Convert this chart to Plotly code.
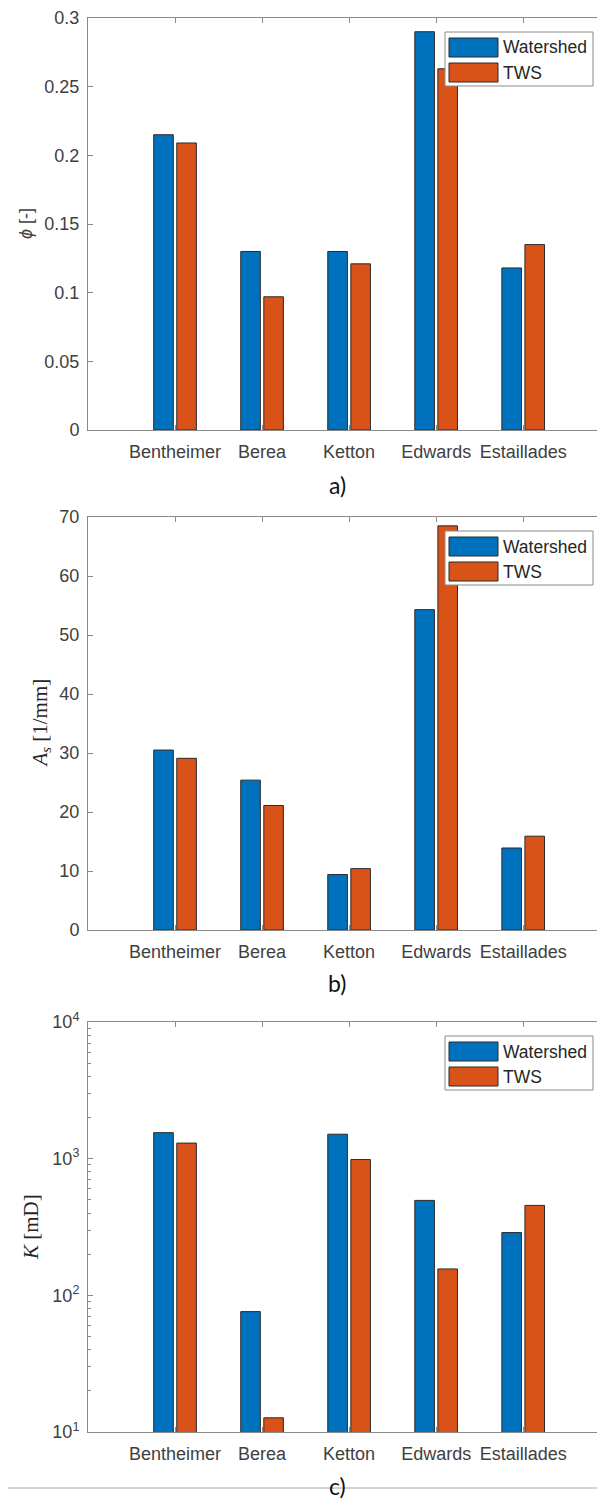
import plotly.graph_objects as go

# ---------------- data ----------------
rocks = ["Bentheimer", "Berea", "Ketton", "Edwards", "Estaillades"]
series_names = ["Watershed", "TWS"]

porosity_watershed = [0.215, 0.130, 0.130, 0.290, 0.118]
porosity_tws = [0.209, 0.097, 0.121, 0.263, 0.135]

area_watershed = [30.5, 25.4, 9.4, 54.3, 13.9]
area_tws = [29.1, 21.1, 10.4, 68.5, 15.9]

perm_watershed = [1550, 76, 1510, 495, 288]
perm_tws = [1300, 12.7, 985, 156, 455]

phi_ticks = [0, 0.05, 0.1, 0.15, 0.2, 0.25, 0.3]
phi_ticktext = ["0", "0.05", "0.1", "0.15", "0.2", "0.25", "0.3"]
as_ticks = [0, 10, 20, 30, 40, 50, 60, 70]
k_ticks = [10, 100, 1000, 10000]
k_ticktext = ["10<sup>1</sup>", "10<sup>2</sup>", "10<sup>3</sup>", "10<sup>4</sup>"]

panel_labels = ["a)", "b)", "c)"]
y_titles = ["<i>ϕ</i> [-]", "<i>A<sub>s</sub></i> [1/mm]", "<i>K</i> [mD]"]

# ---------------- style / layout helpers ----------------
OX, OY = 8, 8            # page body margin offset
W, H = 605 - OX, 1499 - OY
BLUE = "#0072BD"
ORANGE = "#D95319"
AXIS_COLOR = "#8a8a8a"
TEXT_COLOR = "#404040"
TICK_FONT = dict(family="Liberation Sans, Arial, sans-serif", size=18, color=TEXT_COLOR)


def py(p):
    return 1 - (p - OY) / H


def px(p):
    return (p - OX) / W


x_left = 88
# (top px, bottom px) of each plot area in page pixels
panels = [(18, 430), (517, 930), (1022, 1432)]
label_y = [485, 983, 1486]

fig = go.Figure()
xpos = list(range(1, len(rocks) + 1))

data_sets = [
    (porosity_watershed, porosity_tws),
    (area_watershed, area_tws),
    (perm_watershed, perm_tws),
]

for i, (wv, tv) in enumerate(data_sets):
    xa = "x" if i == 0 else f"x{i+1}"
    ya = "y" if i == 0 else f"y{i+1}"
    fig.add_trace(go.Bar(x=xpos, y=wv, name=series_names[0], xaxis=xa, yaxis=ya,
                         marker=dict(color=BLUE, line=dict(color="#2a2a2a", width=1)),
                         offsetgroup="w", showlegend=False))
    fig.add_trace(go.Bar(x=xpos, y=tv, name=series_names[1], xaxis=xa, yaxis=ya,
                         marker=dict(color=ORANGE, line=dict(color="#2a2a2a", width=1)),
                         offsetgroup="t", showlegend=False))

layout = dict(
    width=W, height=H,
    margin=dict(l=0, r=0, t=0, b=0, pad=0, autoexpand=False),
    paper_bgcolor="white", plot_bgcolor="white",
    barmode="group", bargap=0.47, bargroupgap=0.15,
    showlegend=False,
)

for i, (top, bot) in enumerate(panels):
    xk = "xaxis" if i == 0 else f"xaxis{i+1}"
    yk = "yaxis" if i == 0 else f"yaxis{i+1}"
    ya = "y" if i == 0 else f"y{i+1}"
    xa = "x" if i == 0 else f"x{i+1}"
    layout[xk] = dict(
        domain=[px(x_left), 1], anchor=ya, range=[0, 5.94], automargin=False,
        tickvals=xpos, ticktext=rocks, ticks="inside", ticklen=5,
        tickcolor=AXIS_COLOR, showline=True, linecolor=AXIS_COLOR, linewidth=1,
        mirror="ticks", showgrid=False, zeroline=False, tickfont=TICK_FONT,
        ticklabelstandoff=5,
    )
    ycfg = dict(
        domain=[py(bot), py(top)], anchor=xa, ticks="inside", ticklen=5, automargin=False,
        tickcolor=AXIS_COLOR, showline=True, linecolor=AXIS_COLOR, linewidth=1,
        mirror="ticks", showgrid=False, zeroline=False, tickfont=TICK_FONT,
        ticklabelstandoff=4,
    )
    if i == 0:
        ycfg.update(range=[0, 0.3], tickvals=phi_ticks, ticktext=phi_ticktext)
    elif i == 1:
        ycfg.update(range=[0, 70], tickvals=as_ticks)
    else:
        ycfg.update(type="log", range=[1, 4], tickvals=k_ticks, ticktext=k_ticktext,
                    minor=dict(ticks="inside", ticklen=3, tickcolor=AXIS_COLOR,
                               dtick="D1", showgrid=False))
    layout[yk] = ycfg

fig.update_layout(**layout)

# ---------------- annotations, legends, separator ----------------
annotations = []
shapes = []
for i, (top, bot) in enumerate(panels):
    # panel label
    annotations.append(dict(text=panel_labels[i], x=px(337), y=py(label_y[i]),
                            xref="paper", yref="paper", showarrow=False,
                            xanchor="center", yanchor="middle",
                            font=dict(family="Lato, Open Sans, sans-serif", size=23,
                                      color="#111111")))
    # y title
    if i == 0:
        tfont = dict(family="Liberation Sans, Arial, sans-serif", size=18, color=TEXT_COLOR)
        tx = 26
    else:
        tfont = dict(family="Liberation Serif, DejaVu Serif, serif", size=21, color="#262626")
        tx = 40 if i == 1 else 31
    annotations.append(dict(text=y_titles[i], x=px(tx), y=py((top + bot) / 2),
                            xref="paper", yref="paper", showarrow=False, textangle=-90,
                            xanchor="center", yanchor="middle", font=tfont))
    # legend box
    lt = top + 14
    shapes.append(dict(type="rect", xref="paper", yref="paper",
                       x0=px(445), x1=px(593), y0=py(lt + 54), y1=py(lt),
                       line=dict(color="#8a8a8a", width=1), fillcolor="white", layer="above"))
    for j, (name, col) in enumerate(zip(series_names, [BLUE, ORANGE])):
        yt = lt + 6 + j * 25
        shapes.append(dict(type="rect", xref="paper", yref="paper",
                           x0=px(449), x1=px(498), y0=py(yt + 19), y1=py(yt),
                           line=dict(color="#2a2a2a", width=1), fillcolor=col, layer="above"))
        annotations.append(dict(text=name, x=px(501), y=py(yt + 9.5),
                                xref="paper", yref="paper", showarrow=False,
                                xanchor="left", yanchor="middle",
                                font=dict(family="Liberation Sans, Arial, sans-serif",
                                          size=17.5, color="#262626")))

# separator line near the bottom of the page
shapes.append(dict(type="line", xref="paper", yref="paper", x0=0, x1=1,
                   y0=py(1488), y1=py(1488), line=dict(color="#a8a8a8", width=1),
                   layer="below"))

fig.update_layout(annotations=annotations, shapes=shapes)

fig.write_html("out.html")
